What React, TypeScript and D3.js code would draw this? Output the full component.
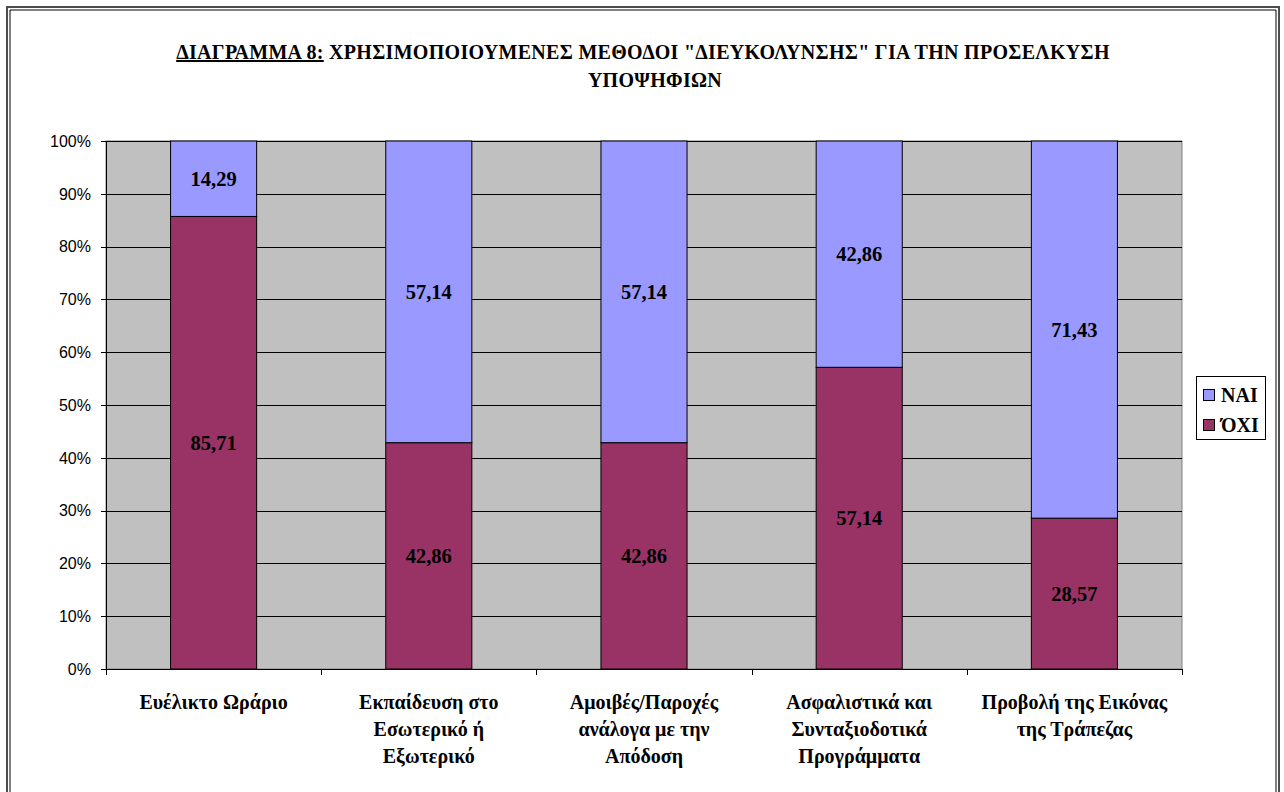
import React from "react";
import * as d3 from "d3";

// Categories (each as wrapped label lines) and percentage values per series
const categories: string[][] = [
  ["Ευέλικτο Ωράριο"],
  ["Εκπαίδευση στο", "Εσωτερικό ή", "Εξωτερικό"],
  ["Αμοιβές/Παροχές", "ανάλογα με την", "Απόδοση"],
  ["Ασφαλιστικά και", "Συνταξιοδοτικά", "Προγράμματα"],
  ["Προβολή της Εικόνας", "της Τράπεζας"],
];
const oxiValues: number[] = [85.71, 42.86, 42.86, 57.14, 28.57];
const naiValues: number[] = [14.29, 57.14, 57.14, 42.86, 71.43];
const yTicks: number[] = [0, 10, 20, 30, 40, 50, 60, 70, 80, 90, 100];

const seriesNames = { oxi: "ΌΧΙ", nai: "ΝΑΙ" };
const colors = { oxi: "#993366", nai: "#9999FF" };

const W = 1284;
const H = 792;
const plot = { left: 106, right: 1182, top: 141, bottom: 669 };

const serif = "'Liberation Serif', 'Times New Roman', serif";
const sans = "'Liberation Sans', Arial, sans-serif";

const fmt = (v: number) => v.toFixed(2).replace(".", ",");

export default function App() {
  const keys = categories.map((_, i) => String(i));
  const x = d3
    .scaleBand<string>()
    .domain(keys)
    .range([plot.left, plot.right])
    .paddingInner(0.6)
    .paddingOuter(0.3);
  const y = d3.scaleLinear().domain([0, 100]).range([plot.bottom, plot.top]);

  const rows = keys.map((k, i) => ({ key: k, oxi: oxiValues[i], nai: naiValues[i] }));
  const stacked = d3.stack<any>().keys(["oxi", "nai"])(rows);

  const step = (plot.right - plot.left) / categories.length;

  return (
    <svg
      width={W}
      height={H}
      style={{ position: "absolute", left: 0, top: 0, background: "#fff" }}
    >
      {/* double frame */}
      <path d={`M7,${H} V7 H1279 V${H}`} fill="none" stroke="#4d4d4d" strokeWidth={2} />
      <path d={`M10,${H} V10 H1276 V${H}`} fill="none" stroke="#000" strokeWidth={1} />

      {/* title */}
      <text
        x={643}
        y={59}
        textAnchor="middle"
        fontFamily={serif}
        fontWeight="bold"
        fontSize={20}
        letterSpacing={0.3}
      >
        <tspan textDecoration="underline">ΔΙΑΓΡΑΜΜΑ 8:</tspan>
        <tspan> ΧΡΗΣΙΜΟΠΟΙΟΥΜΕΝΕΣ ΜΕΘΟΔΟΙ "ΔΙΕΥΚΟΛΥΝΣΗΣ" ΓΙΑ ΤΗΝ ΠΡΟΣΕΛΚΥΣΗ</tspan>
      </text>
      <text
        x={655}
        y={87}
        textAnchor="middle"
        fontFamily={serif}
        fontWeight="bold"
        fontSize={20}
        letterSpacing={0.3}
      >
        ΥΠΟΨΗΦΙΩΝ
      </text>

      {/* plot background */}
      <rect
        x={plot.left}
        y={plot.top}
        width={plot.right - plot.left}
        height={plot.bottom - plot.top}
        fill="#C0C0C0"
        stroke="#808080"
        strokeWidth={1}
      />

      {/* gridlines */}
      {yTicks.slice(1).map((t) => (
        <line
          key={"g" + t}
          x1={plot.left}
          x2={plot.right}
          y1={Math.round(y(t)) + 0.5}
          y2={Math.round(y(t)) + 0.5}
          stroke="#000"
          strokeWidth={1}
        />
      ))}

      {/* bars */}
      {stacked.map((layer) =>
        layer.map((d, i) => {
          const x0 = x(keys[i])!;
          const y0 = y(d[1]);
          const y1 = y(d[0]);
          return (
            <rect
              key={layer.key + i}
              x={x0}
              y={y0}
              width={x.bandwidth()}
              height={y1 - y0}
              fill={(colors as any)[layer.key]}
              stroke="#000"
              strokeWidth={1}
            />
          );
        })
      )}

      {/* value labels */}
      {stacked.map((layer) =>
        layer.map((d, i) => {
          const cx = x(keys[i])! + x.bandwidth() / 2;
          const cy = (y(d[0]) + y(d[1])) / 2;
          return (
            <text
              key={"v" + layer.key + i}
              x={cx}
              y={cy}
              dy="0.35em"
              textAnchor="middle"
              fontFamily={serif}
              fontWeight="bold"
              fontSize={20.5}
            >
              {fmt(d[1] - d[0])}
            </text>
          );
        })
      )}

      {/* y axis */}
      <line x1={plot.left + 0.5} x2={plot.left + 0.5} y1={plot.top} y2={plot.bottom + 6} stroke="#000" />
      {yTicks.map((t) => (
        <g key={"t" + t}>
          <line
            x1={plot.left - 5}
            x2={plot.left}
            y1={Math.round(y(t)) + 0.5}
            y2={Math.round(y(t)) + 0.5}
            stroke="#000"
          />
          <text
            x={91}
            y={y(t)}
            dy="0.36em"
            textAnchor="end"
            fontFamily={sans}
            fontSize={16}
          >
            {t}%
          </text>
        </g>
      ))}

      {/* x axis */}
      <line x1={plot.left} x2={plot.right} y1={plot.bottom + 0.5} y2={plot.bottom + 0.5} stroke="#000" />
      {d3.range(categories.length + 1).map((k) => (
        <line
          key={"xt" + k}
          x1={Math.round(plot.left + k * step) + 0.5}
          x2={Math.round(plot.left + k * step) + 0.5}
          y1={plot.bottom}
          y2={plot.bottom + 6}
          stroke="#000"
        />
      ))}
      {categories.map((lines, i) => (
        <text
          key={"c" + i}
          x={x(keys[i])! + x.bandwidth() / 2}
          y={709}
          textAnchor="middle"
          fontFamily={serif}
          fontWeight="bold"
          fontSize={20}
        >
          {lines.map((l, j) => (
            <tspan key={j} x={x(keys[i])! + x.bandwidth() / 2} dy={j === 0 ? 0 : 27}>
              {l}
            </tspan>
          ))}
        </text>
      ))}

      {/* legend */}
      <rect x={1196.5} y={376.5} width={69} height={63} fill="#fff" stroke="#000" />
      {(["nai", "oxi"] as const).map((k, j) => (
        <g key={"l" + k}>
          <rect
            x={1203.5}
            y={389.5 + j * 30}
            width={11}
            height={11}
            fill={colors[k]}
            stroke="#000"
          />
          <text
            x={1221}
            y={395 + j * 30}
            dy="0.35em"
            fontFamily={serif}
            fontWeight="bold"
            fontSize={20}
          >
            {seriesNames[k]}
          </text>
        </g>
      ))}
    </svg>
  );
}
